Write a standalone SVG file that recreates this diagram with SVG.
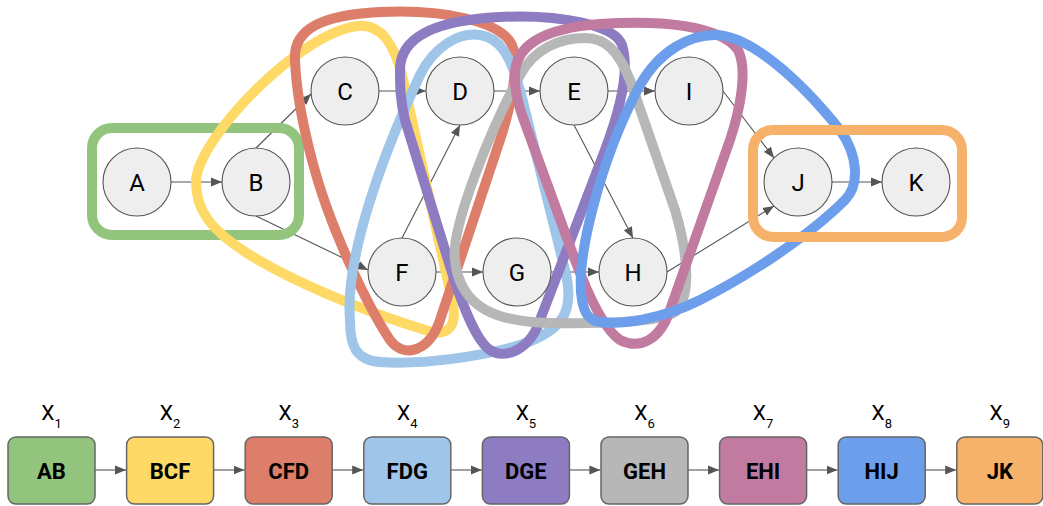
<svg xmlns="http://www.w3.org/2000/svg" width="1043" height="506" viewBox="0 0 1043 506">
  <defs>
    <marker id="arrow" markerUnits="userSpaceOnUse" markerWidth="12" markerHeight="10" refX="11" refY="5" orient="auto">
      <path d="M0,0.5 L11,5 L0,9.5 Z" fill="#555555"/>
    </marker>
    <style>
      .edge { stroke: #555555; stroke-width: 1.1; fill: none; marker-end: url(#arrow); }
      .node circle { fill: #eeeeee; stroke: #555555; stroke-width: 1.1; }
      .node text { font-family: Roboto, "Liberation Sans", sans-serif; font-size: 24px; fill: #000; text-anchor: middle; dominant-baseline: central; }
      .group { fill: none; stroke-width: 10; stroke-linejoin: round; }
      .box rect { stroke: #666666; stroke-width: 1.5; }
      .box text.name { font-family: Roboto, "Liberation Sans", sans-serif; font-weight: bold; font-size: 22px; fill: #000; text-anchor: middle; dominant-baseline: central; }
      .box text.var { font-family: Roboto, "Liberation Sans", sans-serif; font-size: 21px; fill: #000; text-anchor: middle; }
      .box text.var tspan { font-size: 13px; }
    </style>
  </defs>

  <!-- graph edges -->
  <g id="edges">
    <line class="edge" x1="171" y1="182" x2="222" y2="182"/>
    <line class="edge" x1="256" y1="148" x2="311" y2="94"/>
    <line class="edge" x1="256" y1="216" x2="368" y2="270"/>
    <line class="edge" x1="379" y1="91" x2="426" y2="91"/>
    <line class="edge" x1="494" y1="91" x2="540" y2="91"/>
    <line class="edge" x1="608" y1="91" x2="655" y2="91"/>
    <line class="edge" x1="402" y1="238" x2="460" y2="125"/>
    <line class="edge" x1="436" y1="272" x2="483" y2="272"/>
    <line class="edge" x1="551" y1="272" x2="599" y2="272"/>
    <line class="edge" x1="574" y1="125" x2="633" y2="238"/>
    <line class="edge" x1="723" y1="91" x2="774" y2="158"/>
    <line class="edge" x1="667" y1="272" x2="774" y2="206"/>
    <line class="edge" x1="832" y1="182" x2="882" y2="182"/>
  </g>

  <!-- cluster outlines -->
  <g id="clusters">
    <rect id="c-AB" class="group" x="92" y="128" width="207" height="107" rx="20" stroke="#93c47d"/>
    <path id="c-BCF" class="group" stroke="#ffd966" d="M196,182 C196,140 300,32 358,26 C382,24 394,45 402,75 L452,300 C458,325 450,338 425,330 C360,310 290,280 250,255 C210,230 196,210 196,182 Z"/>
    <path id="c-CFD" class="group" stroke="#dd7e6b" d="M295,60 C293,30 320,15 380,12 C440,9 500,20 512,45 C520,65 510,110 500,140 L440,320 C430,350 405,360 390,340 C370,310 330,230 312,160 C300,115 296,85 295,60 Z"/>
    <path id="c-FDG" class="group" stroke="#9fc5e8" d="M350,320 C345,260 380,160 420,75 C435,45 460,32 480,35 C500,38 510,55 520,90 L565,270 C575,310 565,330 520,345 C480,357 420,365 380,362 C355,360 350,345 350,320 Z"/>
    <path id="c-DGE" class="group" stroke="#8e7cc3" d="M400,70 C400,35 440,20 500,17 C560,14 615,25 622,45 C630,70 620,110 605,150 L540,320 C530,350 505,360 490,350 C475,340 460,300 445,250 L405,120 C400,100 400,85 400,70 Z"/>
    <path id="c-GEH" class="group" stroke="#b7b7b7" d="M455,260 C450,230 490,130 520,75 C535,48 560,38 585,38 C605,38 618,50 630,80 L675,210 C690,260 690,300 675,312 C660,322 600,324 550,323 C500,322 460,310 455,260 Z"/>
    <path id="c-EHI" class="group" stroke="#c27ba0" d="M515,80 C512,45 545,28 600,24 C660,20 720,25 738,50 C748,70 740,110 730,140 L670,310 C660,340 640,350 620,340 C605,330 590,300 575,260 L522,115 C517,100 515,90 515,80 Z"/>
    <path id="c-HIJ" class="group" stroke="#6d9eeb" d="M582,300 C575,260 600,160 640,85 C660,50 690,35 715,35 C750,35 800,80 840,130 C858,155 860,185 845,200 C810,235 750,275 700,300 C660,320 620,325 600,322 C588,320 584,312 582,300 Z"/>
    <rect id="c-JK" class="group" x="753" y="130" width="209" height="107" rx="20" stroke="#f6b26b"/>
  </g>

  <!-- graph nodes -->
  <g id="node-A" class="node"><circle cx="137" cy="182" r="34"/><text x="137" y="183">A</text></g>
  <g id="node-B" class="node"><circle cx="256" cy="182" r="34"/><text x="256" y="183">B</text></g>
  <g id="node-C" class="node"><circle cx="345" cy="91" r="34"/><text x="345" y="92">C</text></g>
  <g id="node-D" class="node"><circle cx="460" cy="91" r="34"/><text x="460" y="92">D</text></g>
  <g id="node-E" class="node"><circle cx="574" cy="91" r="34"/><text x="574" y="92">E</text></g>
  <g id="node-F" class="node"><circle cx="402" cy="272" r="34"/><text x="402" y="273">F</text></g>
  <g id="node-G" class="node"><circle cx="517" cy="272" r="34"/><text x="517" y="273">G</text></g>
  <g id="node-H" class="node"><circle cx="633" cy="272" r="34"/><text x="633" y="273">H</text></g>
  <g id="node-I" class="node"><circle cx="689" cy="91" r="34"/><text x="689" y="92">I</text></g>
  <g id="node-J" class="node"><circle cx="798" cy="182" r="34"/><text x="798" y="183">J</text></g>
  <g id="node-K" class="node"><circle cx="916" cy="182" r="34"/><text x="916" y="183">K</text></g>

  <!-- chain links -->
  <g id="chain-edges">
    <line class="edge" x1="95" y1="470" x2="126" y2="470"/>
    <line class="edge" x1="213.6" y1="470" x2="244.6" y2="470"/>
    <line class="edge" x1="332.2" y1="470" x2="363.2" y2="470"/>
    <line class="edge" x1="450.8" y1="470" x2="481.8" y2="470"/>
    <line class="edge" x1="569.4" y1="470" x2="600.4" y2="470"/>
    <line class="edge" x1="688" y1="470" x2="719" y2="470"/>
    <line class="edge" x1="806.6" y1="470" x2="837.6" y2="470"/>
    <line class="edge" x1="925.2" y1="470" x2="956.2" y2="470"/>
  </g>

  <!-- chain boxes -->
  <g id="box-AB" class="box"><rect x="8" y="437" width="87" height="67" rx="8" fill="#93c47d"/><text class="name" x="51.5" y="471">AB</text><text class="var" x="51.5" y="420">X<tspan dy="8">1</tspan></text></g>
  <g id="box-BCF" class="box"><rect x="126.6" y="437" width="87" height="67" rx="8" fill="#ffd966"/><text class="name" x="170.1" y="471">BCF</text><text class="var" x="170.1" y="420">X<tspan dy="8">2</tspan></text></g>
  <g id="box-CFD" class="box"><rect x="245.2" y="437" width="87" height="67" rx="8" fill="#dd7e6b"/><text class="name" x="288.7" y="471">CFD</text><text class="var" x="288.7" y="420">X<tspan dy="8">3</tspan></text></g>
  <g id="box-FDG" class="box"><rect x="363.8" y="437" width="87" height="67" rx="8" fill="#9fc5e8"/><text class="name" x="407.3" y="471">FDG</text><text class="var" x="407.3" y="420">X<tspan dy="8">4</tspan></text></g>
  <g id="box-DGE" class="box"><rect x="482.4" y="437" width="87" height="67" rx="8" fill="#8e7cc3"/><text class="name" x="525.9" y="471">DGE</text><text class="var" x="525.9" y="420">X<tspan dy="8">5</tspan></text></g>
  <g id="box-GEH" class="box"><rect x="601" y="437" width="87" height="67" rx="8" fill="#b7b7b7"/><text class="name" x="644.5" y="471">GEH</text><text class="var" x="644.5" y="420">X<tspan dy="8">6</tspan></text></g>
  <g id="box-EHI" class="box"><rect x="719.6" y="437" width="87" height="67" rx="8" fill="#c27ba0"/><text class="name" x="763.1" y="471">EHI</text><text class="var" x="763.1" y="420">X<tspan dy="8">7</tspan></text></g>
  <g id="box-HIJ" class="box"><rect x="838.2" y="437" width="87" height="67" rx="8" fill="#6d9eeb"/><text class="name" x="881.7" y="471">HIJ</text><text class="var" x="881.7" y="420">X<tspan dy="8">8</tspan></text></g>
  <g id="box-JK" class="box"><rect x="956.8" y="437" width="86" height="67" rx="8" fill="#f6b26b"/><text class="name" x="999.8" y="471">JK</text><text class="var" x="999.8" y="420">X<tspan dy="8">9</tspan></text></g>
</svg>
